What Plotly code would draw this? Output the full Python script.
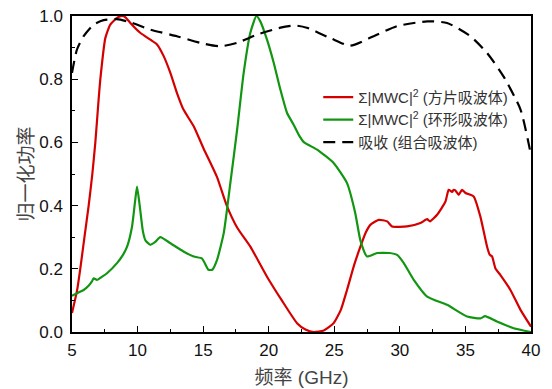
import plotly.graph_objects as go

# Data
red_x = [5, 5.38, 5.63, 5.95, 6.27, 6.55, 6.78, 7.0, 7.16, 7.54, 7.92, 8.43, 8.81, 9.1, 9.45, 10.2, 10.97,
         11.48, 11.99, 12.5, 13.0, 13.5, 14.28, 15.04, 16.06, 16.8, 17.6, 18.6, 19.87, 21.0, 22.16, 22.8,
         23.43, 24.2, 24.95, 25.5, 25.97, 26.5, 26.99, 27.4, 27.75, 28.39, 29.03, 29.41, 30.55, 31.57,
         32.08, 32.3, 32.84, 33.48, 33.72, 33.98, 34.1, 34.23, 34.49, 34.74, 35.0, 35.63, 36.14, 36.65,
         36.85, 37.03, 37.3, 37.67, 38.43, 39.2, 40.0]
red_y = [0.06, 0.13, 0.2, 0.3, 0.4, 0.5, 0.6, 0.72, 0.8, 0.93, 0.973, 0.994, 1.0, 0.995, 0.978, 0.947, 0.925,
         0.91, 0.873, 0.82, 0.757, 0.704, 0.651, 0.58, 0.49, 0.40, 0.33, 0.27, 0.175, 0.10, 0.028, 0.008,
         0.0, 0.005, 0.028, 0.07, 0.133, 0.21, 0.27, 0.315, 0.339, 0.355, 0.35, 0.334, 0.334, 0.345,
         0.357, 0.35, 0.371, 0.413, 0.45, 0.443, 0.45, 0.448, 0.434, 0.45, 0.44, 0.429, 0.365, 0.27,
         0.245, 0.239, 0.2, 0.18, 0.133, 0.07, 0.017]

green_x = [5, 5.5, 5.89, 6.3, 6.52, 6.65, 6.9, 7.3, 7.67, 8.43, 8.9, 9.2, 9.58, 9.8, 9.96, 10.2, 10.4, 10.6,
           10.97, 11.35, 11.73, 12.5, 13.5, 14.28, 14.9, 15.1, 15.4, 15.7, 16.06, 16.57, 17.07, 17.59,
           18.09, 18.6, 19.06, 19.36, 19.87, 20.38, 20.89, 21.4, 21.9, 22.29, 22.7, 23.69, 24.95, 25.97,
           26.6, 26.99, 27.5, 28.26, 29.2, 29.79, 30.3, 31.06, 32.08, 33.6, 35.13, 36.14, 36.5, 37.4,
           38.68, 40]
green_y = [0.115, 0.125, 0.133, 0.148, 0.16, 0.17, 0.165, 0.175, 0.186, 0.218, 0.245, 0.27, 0.334, 0.41,
           0.46, 0.387, 0.32, 0.29, 0.276, 0.285, 0.30, 0.281, 0.255, 0.239, 0.233, 0.22, 0.197, 0.197,
           0.228, 0.313, 0.47, 0.64, 0.82, 0.947, 1.0, 0.983, 0.925, 0.852, 0.767, 0.693, 0.656, 0.624,
           0.60, 0.577, 0.535, 0.471, 0.376, 0.29, 0.239, 0.25, 0.25, 0.244, 0.218, 0.165, 0.112, 0.086,
           0.049, 0.043, 0.05, 0.033, 0.012, 0.0]

black_x = [5, 5.38, 5.89, 6.65, 7.41, 8.43, 9.45, 10.97, 13.0, 14.78, 16.3, 17.59, 19.1, 20.9, 22.0, 22.9,
           24.7, 26.2, 28.0, 29.79, 32.08, 33.6, 35.38, 36.65, 37.9, 39.2, 40]
black_y = [0.82, 0.894, 0.936, 0.973, 0.987, 0.99, 0.98, 0.957, 0.936, 0.915, 0.904, 0.915, 0.941, 0.963,
           0.97, 0.963, 0.93, 0.906, 0.936, 0.968, 0.983, 0.978, 0.936, 0.883, 0.809, 0.704, 0.56]

names = ["Σ|MWC|<sup>2</sup> (方片吸波体)", "Σ|MWC|<sup>2</sup> (环形吸波体)", "吸收 (组合吸波体)"]
x_ticks = [5, 10, 15, 20, 25, 30, 35, 40]
y_ticks = [0.0, 0.2, 0.4, 0.6, 0.8, 1.0]
x_range = [5, 40]
y_range = [0, 1.0]

FONT = "Liberation Sans, Arial, Noto Sans CJK SC, sans-serif"

fig = go.Figure()
fig.add_trace(go.Scatter(x=red_x, y=red_y, mode="lines", name=names[0],
                         line=dict(color="#d40000", width=2.2, shape="spline", smoothing=0.5)))
fig.add_trace(go.Scatter(x=green_x, y=green_y, mode="lines", name=names[1],
                         line=dict(color="#129612", width=2.2, shape="spline", smoothing=0.5)))
fig.add_trace(go.Scatter(x=black_x, y=black_y, mode="lines", name=names[2],
                         line=dict(color="black", width=2.2, dash="12px,7px", shape="spline", smoothing=0.6)))

axis_common = dict(showgrid=False, zeroline=False, showline=True, linecolor="#000000", linewidth=1.5,
                   mirror=True, ticks="inside", ticklen=6, tickwidth=1.3, tickcolor="#000000",
                   automargin=False, tickmode="array", ticklabeloverflow="allow",
                   tickfont=dict(family=FONT, size=17, color="#111"))

fig.update_xaxes(range=x_range, tickvals=x_ticks, ticktext=[str(v) for v in x_ticks], ticklabelstandoff=2,
                 minor=dict(ticks="inside", ticklen=3, tickcolor="#000000", tickwidth=1, dtick=2.5, tick0=5),
                 title=dict(text="频率 (GHz)", font=dict(family=FONT, size=19, color="#444"), standoff=12),
                 **axis_common)
fig.update_yaxes(range=y_range, tickvals=y_ticks, ticktext=[f"{v:.1f}" for v in y_ticks], ticklabelstandoff=4,
                 minor=dict(ticks="inside", ticklen=3, tickcolor="#000000", tickwidth=1, dtick=0.1, tick0=0),
                 title=dict(text="归一化功率", font=dict(family=FONT, size=19, color="#444"), standoff=1),
                 **axis_common)

fig.update_layout(
    width=544, height=381,
    margin=dict(l=64, r=21, t=8, b=57),
    paper_bgcolor="white", plot_bgcolor="white",
    showlegend=True,
    legend=dict(x=0.5365, y=0.795, xanchor="left", yanchor="top", bgcolor="rgba(0,0,0,0)",
                font=dict(family=FONT, size=15, color="#333"), tracegroupgap=0, itemwidth=30),
)

fig.write_html("out.html")
